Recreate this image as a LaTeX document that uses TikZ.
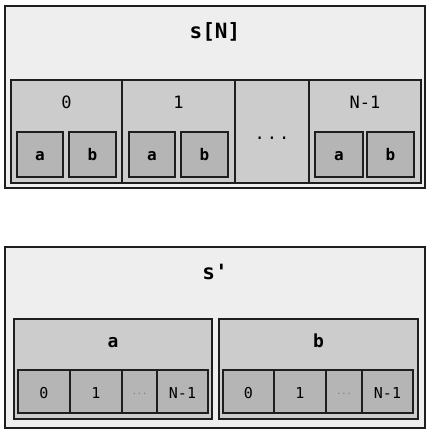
\documentclass[tikz,border=0pt]{standalone}
\usepackage{fontspec}
\setmonofont{DejaVu Sans Mono}
\usetikzlibrary{fit}
\definecolor{cout}{HTML}{EEEEEE}
\definecolor{cmid}{HTML}{CCCCCC}
\definecolor{cin}{HTML}{B5B5B5}
\definecolor{cline}{HTML}{1E1E1E}
\definecolor{cdots}{HTML}{7A7A7A}
\newcommand\mybox[4]{\node[#1, fit={#3 #4}] (#2) {};}
\begin{document}
\begin{tikzpicture}[x=1pt,y=-1pt,
  base/.style={draw=cline, line width=1.3pt, inner sep=0pt, outer sep=0pt},
  outerbox/.style={base, fill=cout},
  midbox/.style={base, fill=cmid},
  inbox/.style={base, fill=cin},
  txt/.style={inner sep=0pt, anchor=base},
  ttl/.style={txt, font=\ttfamily\bfseries\fontsize{21}{21}\selectfont},
  lbl/.style={txt, font=\ttfamily\fontsize{17}{17}\selectfont},
  sublbl/.style={txt, font=\ttfamily\bfseries\fontsize{16}{16}\selectfont},
  fldlbl/.style={txt, font=\ttfamily\bfseries\fontsize{18}{18}\selectfont},
  numlbl/.style={txt, font=\ttfamily\fontsize{15}{15}\selectfont},
  dotlbl/.style={txt, text=cdots, font=\ttfamily\fontsize{8.5}{8.5}\selectfont},
  ]
\useasboundingbox (0,0) rectangle (432,432);
% ---------- top: s[N] ----------
\mybox{outerbox}{sN}{(5,6)}{(425,188)}
\node[ttl] (tsN) at (215,38) {s[N]};
\mybox{midbox}{c0}{(11,80)}{(122,183)}
\mybox{midbox}{c1}{(122,80)}{(235,183)}
\mybox{midbox}{cd}{(235,80)}{(309,183)}
\mybox{midbox}{cN}{(309,80)}{(421,183)}
\node[lbl] (tc0) at (66.5,108) {0};
\node[lbl] (tc1) at (178.5,108) {1};
\node[lbl] (tcN) at (365,108) {N-1};
\node[lbl] (tcd) at (272,139) {.\hspace{2pt}.\hspace{2pt}.};
\mybox{inbox}{c0a}{(17,132)}{(63,177)}
\mybox{inbox}{c0b}{(69,132)}{(116,177)}
\mybox{inbox}{c1a}{(129,132)}{(175,177)}
\mybox{inbox}{c1b}{(181,132)}{(228,177)}
\mybox{inbox}{cNa}{(315,132)}{(363,177)}
\mybox{inbox}{cNb}{(367,132)}{(414,177)}
\node[sublbl] (tc0a) at (40,160) {a};
\node[sublbl] (tc0b) at (92.5,160) {b};
\node[sublbl] (tc1a) at (152,160) {a};
\node[sublbl] (tc1b) at (204.5,160) {b};
\node[sublbl] (tcNa) at (339,160) {a};
\node[sublbl] (tcNb) at (390.5,160) {b};
% ---------- bottom: s' ----------
\mybox{outerbox}{sp}{(5,247)}{(425,428)}
\node[ttl] (tsp) at (215,279) {s'};
\mybox{midbox}{fa}{(14,319)}{(212,419)}
\mybox{midbox}{fb}{(219,319)}{(418,419)}
\node[fldlbl] (tfa) at (113,347) {a};
\node[fldlbl] (tfb) at (318.5,347) {b};
\mybox{inbox}{fa0}{(18,370)}{(70,413)}
\mybox{inbox}{fa1}{(70,370)}{(122,413)}
\mybox{inbox}{fad}{(122,370)}{(157,413)}
\mybox{inbox}{faN}{(157,370)}{(208,413)}
\mybox{inbox}{fb0}{(223,370)}{(274,413)}
\mybox{inbox}{fb1}{(274,370)}{(326,413)}
\mybox{inbox}{fbd}{(326,370)}{(362,413)}
\mybox{inbox}{fbN}{(362,370)}{(413,413)}
\node[numlbl] (tfa0) at (44,398) {0};
\node[numlbl] (tfa1) at (96,398) {1};
\node[dotlbl] (tfad) at (139.5,394) {...};
\node[numlbl] (tfaN) at (182.5,398) {N-1};
\node[numlbl] (tfb0) at (248.5,398) {0};
\node[numlbl] (tfb1) at (300,398) {1};
\node[dotlbl] (tfbd) at (344,394) {...};
\node[numlbl] (tfbN) at (387.5,398) {N-1};
\end{tikzpicture}
\end{document}
